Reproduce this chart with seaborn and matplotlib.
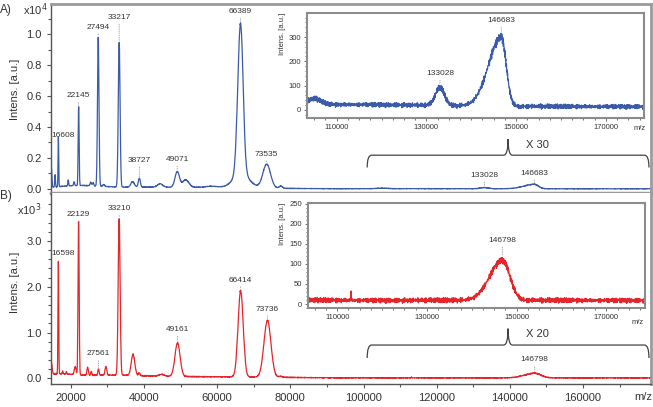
import numpy as np
import pandas as pd
import matplotlib
matplotlib.use('Agg')
import matplotlib.pyplot as plt
import matplotlib.transforms as mtransforms
from matplotlib.path import Path
from matplotlib.patches import PathPatch
from matplotlib.ticker import MultipleLocator, AutoMinorLocator, FixedLocator, FormatStrFormatter
import seaborn as sns

# ---- peak tables (intensity in a.u.) ----
# A) blue spectrum
centers_a = [14700, 15700, 16608, 19300, 20900, 22145, 25460, 26100, 27494, 29000, 33217, 36900,
             38727, 44400, 49071, 51400, 58500, 66389, 66600, 73535, 77400, 105000, 133028, 146683]
heights_a = [1300, 800, 3200, 400, 250, 5100, 220, 200, 9600, 120, 9400, 350,
             580, 220, 1000, 480, 90, 9700, 900, 1550, 150, 25, 75, 285]
sig_lo_a = [120, 100, 90, 110, 140, 130, 180, 180, 200, 250, 240, 480,
            280, 700, 600, 900, 2000, 750, 2200, 1050, 450, 1500, 1000, 2800]
sig_hi_a = [120, 100, 90, 110, 140, 130, 180, 180, 200, 250, 240, 480,
            280, 700, 600, 900, 2000, 700, 2200, 1050, 450, 1500, 1000, 1100]
base_c_a = [22000, 40000, 62000, 115000]
base_h_a = [180, 90, 40, 8]
base_w_a = [6000, 12000, 15000, 15000]
floor_a = 14

# B) red spectrum
centers_b = [14700, 16598, 17800, 18800, 21200, 22129, 24600, 25600, 27561, 29600, 33210, 37000,
             38700, 44800, 49161, 66414, 73736, 77400, 113100, 146798]
heights_b = [250, 2450, 60, 50, 180, 3400, 170, 80, 140, 190, 3450, 460,
             60, 40, 730, 1880, 1240, 20, 28, 100]
sig_lo_b = [200, 100, 100, 100, 250, 150, 200, 160, 170, 240, 260, 480,
            200, 700, 700, 700, 950, 500, 40, 2800]
sig_hi_b = [200, 100, 100, 100, 250, 150, 200, 160, 170, 240, 260, 480,
            200, 700, 700, 700, 950, 500, 40, 1700]
base_c_b = [16000, 30000, 55000]
base_h_b = [70, 50, 25]
base_w_b = [4000, 10000, 18000]
floor_b = 9

# hand typed baseline jitter
jit1 = [0.3, -0.8, 0.6, -0.2, 0.9, -0.5, 0.1, -0.9, 0.4, 0.7, -0.3, -0.6, 0.8, -0.1, 0.5,
        -0.7, 0.2, 1.0, -0.4, 0.0, -1.0, 0.6, -0.2, 0.3, -0.8, 0.9, -0.5, 0.1, -0.3]
jit2 = [-0.4, 0.7, 0.1, -0.9, 0.5, -0.2, 0.8, -0.6, 0.3, -0.1, 0.9, -0.7, 0.2, 0.6, -0.8,
        0.0, 0.4, -0.5, 1.0, -0.3, 0.1, -0.9, 0.7, -0.4, 0.5, -0.6, 0.2, 0.8, -1.0, 0.3,
        -0.2, 0.6, -0.7, 0.4, -0.1, 0.9, -0.5]

labels_a = [16608, 22145, 27494, 33217, 38727, 49071, 66389, 73535, 133028, 146683]
labels_b = [16598, 22129, 27561, 33210, 49161, 66414, 73736, 146798]
inset_labels_a = [133028, 146683]
inset_labels_b = [146798]

# label offsets in pixels (dx, dy)
off_a = [(5, 2), (0, 11), (0, 10), (0, 25), (0, 18), (0, 12), (0, 11), (0, 10), (0, 12), (0, 11)]
off_b = [(5, 8), (0, 7), (0, 15), (0, 10), (0, 13), (0, 10), (0, 11), (0, 13)]
off_ia = [(0, 12), (0, 13)]
off_ib = [(0, 17)]

mz = np.arange(14000, 180001, 50).astype(float)
noise = np.resize(jit1, mz.size) + 0.8 * np.resize(jit2, mz.size)


def spectrum(cen, hgt, slo, shi, bc, bh, bw, floor, amp):
    y = np.full(mz.shape, float(floor))
    for c, h, w in zip(bc, bh, bw):
        y += h * np.exp(-0.5 * ((mz - c) / w) ** 2)
    for c, h, sl, sr in zip(cen, hgt, slo, shi):
        s = np.where(mz < c, sl, sr)
        y += h * np.exp(-0.5 * ((mz - c) / s) ** 2)
    return y + amp * noise * np.sqrt(1 + y / 100)


df = pd.DataFrame({'mz': mz,
                   'A': spectrum(centers_a, heights_a, sig_lo_a, sig_hi_a, base_c_a, base_h_a, base_w_a, floor_a, 6),
                   'B': spectrum(centers_b, heights_b, sig_lo_b, sig_hi_b, base_c_b, base_h_b, base_w_b, floor_b, 4)})
df['A_main'] = df['A'] / 1e4
df['B_main'] = df['B'] / 1e3

sns.set_theme(style='ticks')
plt.rcParams['font.family'] = ['Liberation Sans', 'DejaVu Sans']
plt.rcParams['text.color'] = '#333333'
plt.rcParams['axes.labelcolor'] = '#333333'

blue = '#3b5ba8'
red = '#e4262c'
frame = '#9a9a9a'
dark = '#555555'

fig = plt.figure(figsize=(6.53, 4.07), dpi=100)
axA = fig.add_axes([0.0776, 0.5258, 0.919, 0.4644])
axB = fig.add_axes([0.0776, 0.0565, 0.919, 0.4693])
insA = fig.add_axes([0.4709, 0.7101, 0.5153, 0.258])
insB = fig.add_axes([0.4717, 0.2432, 0.5153, 0.258])

sns.lineplot(data=df, x='mz', y='A_main', ax=axA, color=blue, lw=0.9, estimator=None)
sns.lineplot(data=df, x='mz', y='B_main', ax=axB, color=red, lw=0.9, estimator=None)
win = df[(df.mz > 103000) & (df.mz < 179000)]
sns.lineplot(data=win, x='mz', y='A', ax=insA, color=blue, lw=0.9, estimator=None)
sns.lineplot(data=win, x='mz', y='B', ax=insB, color=red, lw=0.9, estimator=None)

xlim = (14500, 178500)
for ax in (axA, axB):
    ax.set_xlim(*xlim)
    ax.set_xlabel('')
    ax.set_ylabel('')
    ax.tick_params(which='both', direction='out', colors=dark, labelcolor='#333333',
                   labelsize=8, length=3, width=0.8)
    ax.tick_params(which='minor', length=2)
axA.set_ylim(-0.026, 1.194)
axB.set_ylim(-0.125, 4.05)

axA.yaxis.set_major_locator(MultipleLocator(0.2))
axA.yaxis.set_minor_locator(AutoMinorLocator(2))
axA.yaxis.set_major_formatter(FormatStrFormatter('%.1f'))
axA.tick_params(axis='x', which='both', bottom=False, labelbottom=False)
axB.yaxis.set_major_locator(FixedLocator([0.0, 1.0, 2.0, 3.0]))
axB.yaxis.set_minor_locator(FixedLocator([v / 5 for v in range(0, 20)]))
axB.yaxis.set_major_formatter(FormatStrFormatter('%.1f'))
axB.xaxis.set_major_locator(MultipleLocator(20000))
axB.xaxis.set_minor_locator(MultipleLocator(10000))
axB.xaxis.set_major_formatter(FormatStrFormatter('%d'))

for s in ('top', 'right'):
    axA.spines[s].set_color(frame)
    axA.spines[s].set_linewidth(2)
axA.spines['bottom'].set_color(frame)
axA.spines['bottom'].set_linewidth(2.5)
axA.spines['left'].set_color(dark)
axA.spines['left'].set_linewidth(1)
axB.spines['top'].set_visible(False)
axB.spines['right'].set_color(frame)
axB.spines['right'].set_linewidth(2)
for s in ('left', 'bottom'):
    axB.spines[s].set_color(dark)
    axB.spines[s].set_linewidth(1)

# insets
for ax, yl, ymaj in ((insA, (-33, 399), 100), (insB, (-10, 252), 50)):
    ax.set_xlim(103500, 178500)
    ax.set_ylim(*yl)
    ax.set_xlabel('')
    ax.set_ylabel('Intens. [a.u.]', fontsize=5.5, loc='top', labelpad=2)
    ax.xaxis.set_major_locator(FixedLocator([110000, 130000, 150000, 170000]))
    ax.xaxis.set_minor_locator(MultipleLocator(2500))
    ax.xaxis.set_major_formatter(FormatStrFormatter('%d'))
    ax.yaxis.set_major_locator(MultipleLocator(ymaj))
    ax.yaxis.set_minor_locator(AutoMinorLocator(5))
    ax.tick_params(which='both', direction='out', colors=dark, labelcolor='#333333',
                   labelsize=5.5, length=2.5, width=0.6, pad=2)
    ax.tick_params(which='minor', length=1.5)
    for s in ax.spines.values():
        s.set_color('#8c8c8c')
        s.set_linewidth(1.5)


def peak_labels(ax, col, labels, offs, scale):
    for lab, (dx, dy) in zip(labels, offs):
        sel = df[(df.mz > lab - 250) & (df.mz < lab + 250)]
        top = sel[col].max() / scale
        ax.annotate(str(lab), xy=(lab, top), xytext=(dx * 0.72, dy * 0.72),
                    textcoords='offset points', ha='center', va='center', fontsize=6,
                    color='#333333',
                    arrowprops=dict(arrowstyle='-', linestyle=':', color='#999999', lw=0.6,
                                    shrinkA=0, shrinkB=1) if dx == 0 else None)


peak_labels(axA, 'A', labels_a, off_a, 1e4)
peak_labels(axB, 'B', labels_b, off_b, 1e3)
peak_labels(insA, 'A', inset_labels_a, off_ia, 1)
peak_labels(insB, 'B', inset_labels_b, off_ib, 1)


def brace(ax, x0, x1, ylev, ydrop, ytip, txt):
    tr = mtransforms.blended_transform_factory(ax.transData, ax.transAxes)
    xc = (x0 + x1) / 2
    r = 1200
    verts = [(x0, ylev - ydrop), (x0, ylev), (x0 + r, ylev),
             (xc - r, ylev), (xc, ylev), (xc, ytip),
             (xc, ylev), (xc + r, ylev),
             (x1 - r, ylev), (x1, ylev), (x1, ylev - ydrop)]
    codes = [Path.MOVETO, Path.CURVE3, Path.CURVE3,
             Path.LINETO, Path.CURVE3, Path.CURVE3,
             Path.CURVE3, Path.CURVE3,
             Path.LINETO, Path.CURVE3, Path.CURVE3]
    ax.add_patch(PathPatch(Path(verts, codes), transform=tr, fill=False,
                           edgecolor='#444444', lw=0.9, clip_on=False))
    ax.text(xc + 8000, ytip - 0.03, txt, transform=tr, ha='center', va='center', fontsize=8,
            color='#333333')


brace(axA, 101000, 178000, 0.20, 0.065, 0.285, 'X 30')
brace(axB, 101000, 178000, 0.204, 0.068, 0.29, 'X 20')

# panel texts
fig.text(0.0, 1 - 10 / 407, 'A)', fontsize=8.5, va='center', ha='left')
fig.text(0.0, 1 - 196 / 407, 'B)', fontsize=8.5, va='center', ha='left')
fig.text(35 / 653, 1 - 10 / 407, r'x10$^4$', fontsize=8, va='center', ha='center')
fig.text(29 / 653, 1 - 210 / 407, r'x10$^3$', fontsize=8, va='center', ha='center')
fig.text(15 / 653, 1 - 89 / 407, 'Intens. [a.u.]', fontsize=8, rotation=90, va='center', ha='center')
fig.text(15 / 653, 1 - 282 / 407, 'Intens. [a.u.]', fontsize=8, rotation=90, va='center', ha='center')
fig.text(643 / 653, 1 - 397 / 407, 'm/z', fontsize=8, va='center', ha='center')
fig.text(640 / 653, 1 - 128 / 407, 'm/z', fontsize=5.5, va='center', ha='center')
fig.text(638 / 653, 1 - 323 / 407, 'm/z', fontsize=5.5, va='center', ha='center')

fig.savefig('out.png', dpi=100)
